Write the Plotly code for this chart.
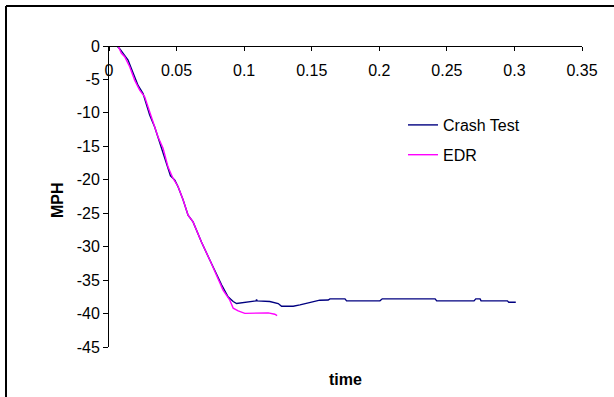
import plotly.graph_objects as go

# Crash Test series (time in s, speed change in MPH)
crash_t = [0, 0.0059, 0.0079, 0.0104, 0.0141, 0.0166, 0.019, 0.0215, 0.0252, 0.0277,
           0.0301, 0.0338, 0.0363, 0.040, 0.0425, 0.0455, 0.0487, 0.0511, 0.0548, 0.0585,
           0.0622, 0.0684, 0.0746, 0.0796, 0.0833, 0.0881, 0.0919, 0.0944, 0.1018, 0.1088,
           0.1092, 0.1096, 0.119, 0.1252, 0.1277, 0.1363, 0.1413, 0.1462, 0.1511, 0.156,
           0.1622, 0.1635, 0.1746, 0.1758, 0.2005, 0.2022, 0.2413, 0.2425, 0.2701, 0.2714,
           0.2746, 0.2753, 0.2948, 0.2958, 0.301]
crash_v = [0, 0, -0.4, -1.1, -2.1, -3.4, -4.6, -5.9, -7.1, -8.6,
           -10.3, -12.1, -13.6, -15.8, -17.55, -19.4, -20.05, -21.05, -23.0, -25.3,
           -26.3, -29.3, -32.0, -34.2, -35.7, -37.5, -38.2, -38.5, -38.3, -38.1,
           -37.9, -38.1, -38.2, -38.5, -38.9, -38.9, -38.7, -38.5, -38.2, -38.0,
           -37.98, -37.8, -37.8, -38.1, -38.1, -37.8, -37.8, -38.1, -38.1, -37.8,
           -37.8, -38.1, -38.1, -38.3, -38.3]

# EDR series
edr_t = [0.0067, 0.0092, 0.0116, 0.0153, 0.019, 0.0227, 0.0264, 0.0289, 0.0326, 0.0363,
         0.040, 0.0437, 0.0474, 0.0511, 0.0548, 0.0585, 0.0622, 0.0684, 0.0746, 0.0796,
         0.0844, 0.0894, 0.0919, 0.0956, 0.1005, 0.1178, 0.1227, 0.1244]
edr_v = [0, -1.1, -1.6, -3.1, -5.1, -6.6, -7.6, -9.1, -11.6, -13.6,
         -15.3, -18.1, -19.8, -21.0, -23.0, -25.3, -26.3, -29.3, -32.0, -34.2,
         -36.5, -38.0, -39.2, -39.6, -39.97, -39.9, -40.1, -40.3]

x_ticks = [0, 0.05, 0.1, 0.15, 0.2, 0.25, 0.3, 0.35]
y_ticks = [0, -5, -10, -15, -20, -25, -30, -35, -40, -45]

W, H = 614, 397
L, R, T, B = 109, 32, 46, 50
pw, ph = W - L - R, H - T - B

def px(xp):
    return (xp - L) / pw

def py(yp):
    return (H - B - yp) / ph

font = "Liberation Sans, Arial, sans-serif"

fig = go.Figure()
fig.add_trace(go.Scatter(x=crash_t, y=crash_v, mode="lines", name="Crash Test",
                         line=dict(color="#000080", width=1.4), legendgroup="a"))
fig.add_trace(go.Scatter(x=edr_t, y=edr_v, mode="lines", name="EDR",
                         line=dict(color="#FF00FF", width=1.4), legendgroup="b"))

fig.update_layout(
    width=W, height=H,
    margin=dict(l=L, r=R, t=T, b=B),
    paper_bgcolor="white", plot_bgcolor="white",
    font=dict(family=font, size=16, color="black"),
    showlegend=True,
    legend=dict(x=px(403), y=py(108), xanchor="left", yanchor="top",
                bgcolor="rgba(0,0,0,0)", font=dict(size=16),
                tracegroupgap=6, traceorder="grouped"),
    xaxis=dict(range=[0, 0.35], tickvals=x_ticks, ticktext=[f"{v:g}" for v in x_ticks],
               anchor="free", position=1, side="bottom",
               showline=True, linecolor="black", linewidth=1,
               ticks="outside", ticklen=4, tickcolor="black",
               showgrid=False, zeroline=False, ticklabelstandoff=6),
    yaxis=dict(range=[-45, 0], tickvals=y_ticks, ticktext=[f"{v:g}" for v in y_ticks],
               showline=True, linecolor="black", linewidth=1,
               ticks="outside", ticklen=5, tickcolor="black",
               showgrid=False, zeroline=False),
    annotations=[
        dict(text="<b>time</b>", xref="paper", yref="paper", x=px(345.5), y=py(379),
             xanchor="center", yanchor="middle", showarrow=False, font=dict(size=16)),
        dict(text="<b>MPH</b>", xref="paper", yref="paper", x=px(57), y=py(200),
             xanchor="center", yanchor="middle", showarrow=False, textangle=-90,
             font=dict(size=16)),
    ],
    shapes=[
        dict(type="line", xref="paper", yref="paper", x0=px(6), x1=px(W + 5), y0=py(6), y1=py(6),
             line=dict(color="black", width=2)),
        dict(type="line", xref="paper", yref="paper", x0=px(6), x1=px(6), y0=py(6), y1=py(H + 5),
             line=dict(color="black", width=2)),
    ],
)

fig.write_html("out.html")
